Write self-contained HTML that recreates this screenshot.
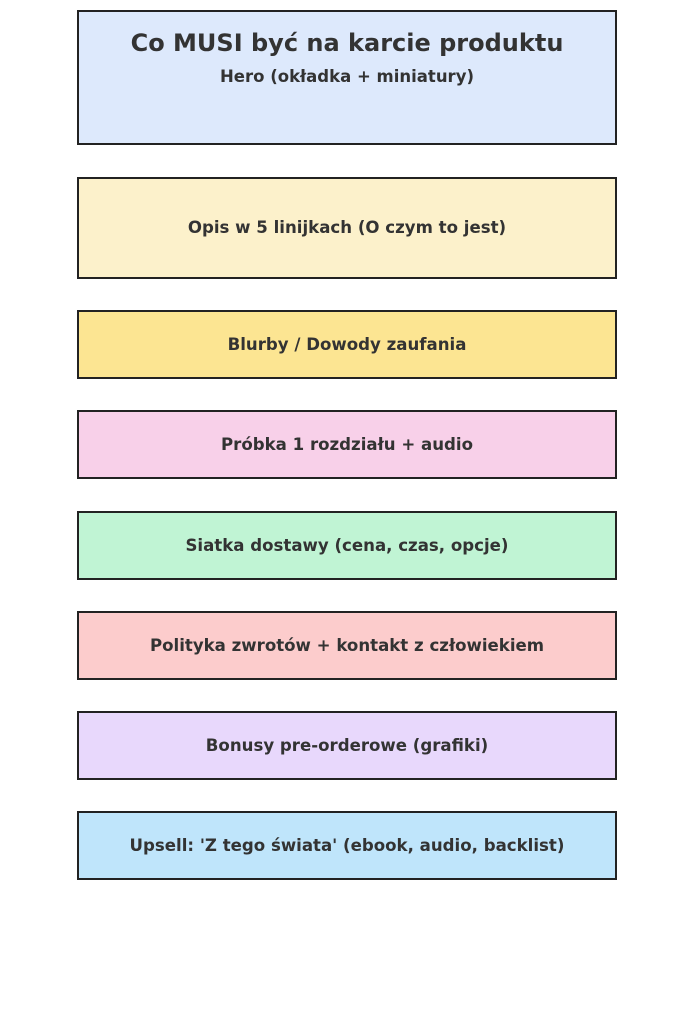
<!DOCTYPE html>
<html><head><meta charset="utf-8"><style>
html,body{margin:0;padding:0;background:#fff;}
svg{display:block;}
text{font-family:"DejaVu Sans","Liberation Sans",sans-serif;font-weight:bold;fill:#333;text-anchor:middle;}
rect{stroke:#222;stroke-width:2;}
</style></head><body>
<svg width="694" height="1024" viewBox="0 0 694 1024">
<rect x="78" y="11" width="538" height="133" fill="#dde9fc"/>
<text x="347" y="51" font-size="24">Co MUSI być na karcie produktu</text>
<text x="347" y="82" font-size="16.5">Hero (okładka + miniatury)</text>
<rect x="78" y="178" width="538" height="100" fill="#fcf1cb"/>
<text x="347" y="233" font-size="16.6">Opis w 5 linijkach (O czym to jest)</text>
<rect x="78" y="311" width="538" height="67" fill="#fce592"/>
<text x="347" y="350" font-size="16.6">Blurby / Dowody zaufania</text>
<rect x="78" y="411" width="538" height="67" fill="#f8d0e9"/>
<text x="347" y="450" font-size="16.6">Próbka 1 rozdziału + audio</text>
<rect x="78" y="512" width="538" height="67" fill="#c0f4d4"/>
<text x="347" y="551" font-size="16.6">Siatka dostawy (cena, czas, opcje)</text>
<rect x="78" y="612" width="538" height="67" fill="#fccccc"/>
<text x="347" y="651" font-size="16.6">Polityka zwrotów + kontakt z człowiekiem</text>
<rect x="78" y="712" width="538" height="67" fill="#e8d8fc"/>
<text x="347" y="751" font-size="16.6">Bonusy pre-orderowe (grafiki)</text>
<rect x="78" y="812" width="538" height="67" fill="#bfe5fb"/>
<text x="347" y="851" font-size="16.6">Upsell: 'Z tego świata' (ebook, audio, backlist)</text>
</svg>
</body></html>
